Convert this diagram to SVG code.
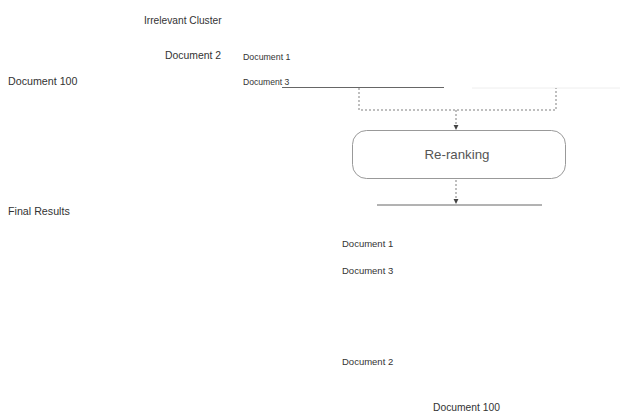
<svg xmlns="http://www.w3.org/2000/svg" width="627" height="417" viewBox="0 0 627 417">
  <style>
    .t { font-family: "Liberation Sans", Arial, sans-serif; fill: #333; }
    .dot { fill: none; stroke: #aaa; stroke-width: 1.5; stroke-dasharray: 2 2; }
    .ln { stroke: #666; stroke-width: 1; fill: none; }
  </style>
  <defs>
    <marker id="ah" viewBox="0 0 6 6" refX="5" refY="3" markerWidth="3.5" markerHeight="3.5" orient="auto">
      <path d="M0,0 L6,3 L0,6 z" fill="#444"/>
    </marker>
  </defs>
  <rect width="627" height="417" fill="#fff"/>

  <g id="irrelevant-cluster"><text class="t" x="144" y="24" font-size="10.2">Irrelevant Cluster</text></g>
  <g id="top-doc2"><text class="t" x="165" y="59" font-size="10.4">Document 2</text></g>
  <g id="top-doc1"><text class="t" x="243" y="60" font-size="8.8">Document 1</text></g>
  <g id="top-doc100"><text class="t" x="8" y="85" font-size="10.7">Document 100</text></g>
  <g id="top-doc3"><text class="t" x="243" y="85" font-size="8.6">Document 3</text></g>

  <g id="connectors">
    <line class="ln" x1="282" y1="87.5" x2="444" y2="87.5" stroke="#999"/>
    <line x1="472" y1="88" x2="620" y2="88" stroke="#eee" stroke-width="1"/>
    <path class="dot" d="M359,88 V110 H556 V88"/>
    <line class="dot" x1="456" y1="110" x2="456" y2="129" marker-end="url(#ah)"/>
    <line class="dot" x1="456" y1="180" x2="456" y2="203" marker-end="url(#ah)"/>
    <line class="ln" x1="377" y1="205" x2="542" y2="205" stroke="#555"/>
  </g>

  <g id="reranking">
    <rect x="352.5" y="130.5" width="213" height="48" rx="14" ry="14" fill="#fff" stroke="#999" stroke-width="1"/>
    <text class="t" x="457" y="159" font-size="13.3" text-anchor="middle" style="fill:#555">Re-ranking</text>
  </g>

  <g id="final-results"><text class="t" x="8" y="215" font-size="10.7">Final Results</text></g>
  <g id="final-doc1"><text class="t" x="342" y="247" font-size="9.5">Document 1</text></g>
  <g id="final-doc3"><text class="t" x="342" y="274" font-size="9.5">Document 3</text></g>
  <g id="final-doc2"><text class="t" x="342" y="365" font-size="9.5">Document 2</text></g>
  <g id="final-doc100"><text class="t" x="433" y="411" font-size="10.3">Document 100</text></g>
</svg>
